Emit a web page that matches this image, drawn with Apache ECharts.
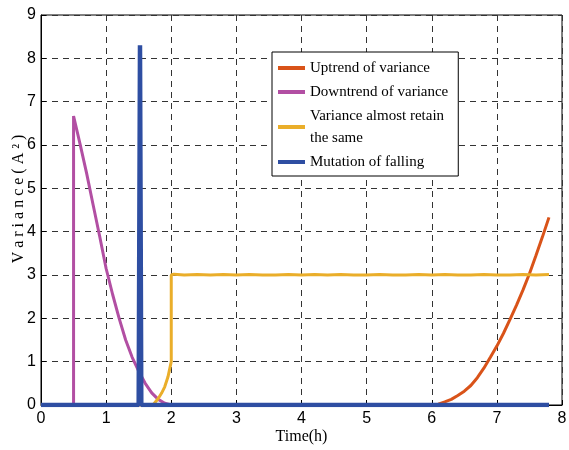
<!DOCTYPE html>
<html>
<head>
<meta charset="utf-8">
<script src="https://cdn.jsdelivr.net/npm/echarts@6/dist/echarts.min.js"></script>
<style>
html,body{margin:0;padding:0;background:#fff;}
#c{width:569px;height:450px;}
</style>
</head>
<body>
<div id="c"></div>
<script>
// ---- data ----
const seriesNames = ['Uptrend of variance', 'Downtrend of variance', 'Variance almost retain\nthe same', 'Mutation of falling'];

const upX = [0, 6.0, 6.1, 6.2, 6.3, 6.4, 6.5, 6.6, 6.7, 6.8, 6.9, 7.0, 7.1, 7.2, 7.3, 7.4, 7.5, 7.6, 7.7, 7.8];
const upY = [0, 0, 0.02, 0.07, 0.13, 0.22, 0.32, 0.45, 0.63, 0.85, 1.1, 1.36, 1.65, 1.97, 2.3, 2.65, 3.03, 3.45, 3.88, 4.33];

const downX = [0, 0.5, 0.5, 0.6, 0.7, 0.8, 0.9, 1.0, 1.1, 1.2, 1.3, 1.4, 1.5, 1.6, 1.7, 1.8, 1.9, 2.0, 7.8];
const downY = [0, 0, 6.67, 6.02, 5.35, 4.62, 3.9, 3.15, 2.55, 2.0, 1.5, 1.1, 0.78, 0.5, 0.28, 0.13, 0.04, 0, 0];

const stableX = [0, 1.72, 1.8, 1.85, 1.9, 1.95, 2.0, 2.0, 2.04, 2.2, 2.4, 2.6, 2.8, 3.0, 3.2, 3.4, 3.6, 3.8, 4.0, 4.2, 4.4, 4.6, 4.8, 5.0, 5.2, 5.4, 5.6, 5.8, 6.0, 6.2, 6.4, 6.6, 6.8, 7.0, 7.2, 7.4, 7.6, 7.8];
const stableY = [0, 0, 0.15, 0.27, 0.42, 0.65, 1.0, 3.0, 3.02, 3.0, 3.01, 3.0, 3.01, 3.0, 3.01, 3.0, 3.0, 3.01, 3.0, 3.01, 3.0, 3.01, 3.0, 3.0, 3.01, 3.0, 3.0, 3.01, 3.0, 3.01, 3.0, 3.0, 3.01, 3.0, 3.0, 3.01, 3.0, 3.01];

const fallX = [0, 1.5, 1.52, 1.54, 7.8];
const fallY = [0, 0, 8.3, 0, 0];

const xName = 'Time(h)';
const yName = 'V a r i a n c e ( A ² )';

function zip(xs, ys) { return xs.map((x, i) => [x, ys[i]]); }

const colors = ['#D95319', '#B24FA3', '#EAAE2A', '#2E4EA2'];
const widths = [3, 3, 3, 4.5];
const datas = [zip(upX, upY), zip(downX, downY), zip(stableX, stableY), zip(fallX, fallY)];

const chart = echarts.init(document.getElementById('c'), null, {renderer: 'canvas'});
chart.setOption({
  animation: false,
  backgroundColor: '#fff',
  grid: {left: 41, right: 7, top: 15, bottom: 45, containLabel: false, outerBoundsMode: 'none',
         show: true, borderColor: '#000', borderWidth: 1, backgroundColor: 'transparent'},
  legend: {
    orient: 'vertical',
    left: 272, top: 52,
    padding: [5, 10, 3, 6],
    itemGap: 2,
    itemWidth: 27, itemHeight: 4,
    icon: 'rect',
    backgroundColor: '#fff',
    borderColor: '#000', borderWidth: 1, borderRadius: 0,
    data: seriesNames,
    textStyle: {fontFamily: 'Liberation Serif', fontSize: 15, color: '#000', lineHeight: 22}
  },
  xAxis: {
    type: 'value', min: 0, max: 8, interval: 1,
    name: xName, nameLocation: 'middle', nameGap: 24, nameMoveOverlap: false,
    nameTextStyle: {fontFamily: 'Liberation Serif', fontSize: 16, color: '#000'},
    axisLine: {show: true, lineStyle: {color: '#000', width: 1}},
    axisTick: {show: true, inside: true, length: 5, lineStyle: {color: '#000'}},
    axisLabel: {fontFamily: 'Liberation Sans', fontSize: 16, color: '#000', margin: 6},
    splitLine: {show: true, lineStyle: {color: '#333', type: [6, 5], width: 1}}
  },
  yAxis: {
    type: 'value', min: 0, max: 9, interval: 1,
    name: yName, nameLocation: 'middle', nameGap: 14, nameMoveOverlap: false,
    nameTextStyle: {fontFamily: 'Liberation Serif', fontSize: 16, color: '#000', padding: [0, 0, 0, 22]},
    axisLine: {show: true, lineStyle: {color: '#000', width: 1}},
    axisTick: {show: true, inside: true, length: 5, lineStyle: {color: '#000'}},
    axisLabel: {fontFamily: 'Liberation Sans', fontSize: 16, color: '#000', margin: 5},
    splitLine: {show: true, lineStyle: {color: '#333', type: [6, 5], width: 1}}
  },
  series: seriesNames.map((n, i) => ({
    name: n, type: 'line', data: datas[i], showSymbol: false, symbol: 'none',
    color: colors[i],
    lineStyle: {color: colors[i], width: widths[i]},
    z: 2 + i
  }))
});
</script>
</body>
</html>
